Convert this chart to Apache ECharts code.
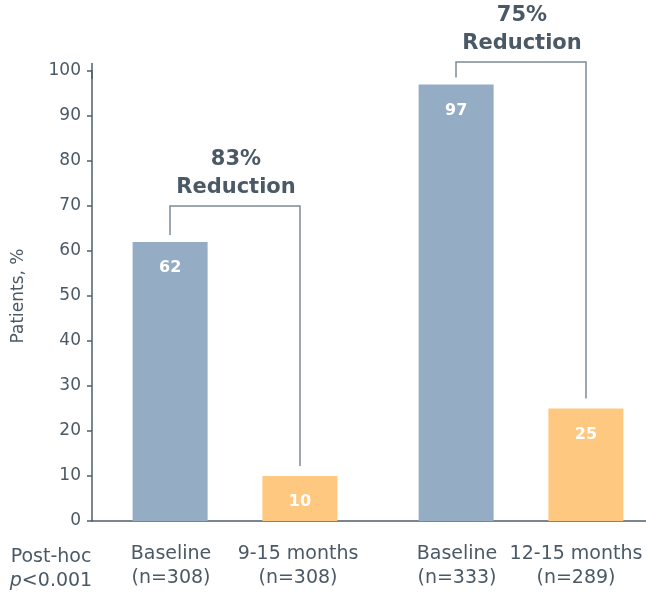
<!DOCTYPE html>
<html>
<head>
<meta charset="utf-8">
<script src="https://cdn.jsdelivr.net/npm/echarts@6/dist/echarts.min.js"></script>
<style>
  html, body { margin: 0; padding: 0; background: #fff; }
  #chart { width: 646px; height: 596px; }
</style>
</head>
<body>
<div id="chart"></div>
<script>
// chart data
const groups = ['Group 1', 'Group 2'];
const baselineLabels = ['Baseline\n(n=308)', 'Baseline\n(n=333)'];
const followupLabels = ['9-15 months\n(n=308)', '12-15 months\n(n=289)'];
const baselineValues = [62, 97];
const followupValues = [10, 25];
const reductionLabels = ['83%\nReduction', '75%\nReduction'];
const bracketLevels = [70, 102];
const yTicks = { min: 0, max: 100, interval: 10 };

const textColor = '#4a5965';
const font = 'DejaVu Sans';

const chart = echarts.init(document.getElementById('chart'));

// second group sits near the right edge, so its baseline box is narrower
function xLabel(value, idx) {
  const a = baselineLabels[idx].split('\n');
  const b = followupLabels[idx].split('\n');
  const k = idx === 0 ? 'a' : 'c';
  return '{' + k + '|' + a[0] + '}{b|' + b[0] + '}\n{' + k + '|' + a[1] + '}{b|' + b[1] + '}';
}

const labelStyle = { align: 'center', fontSize: 19, color: textColor, fontFamily: font, lineHeight: 24 };

const option = {
  animation: false,
  grid: { left: 92, width: 572, top: 71, height: 450, containLabel: false, outerBoundsMode: 'none' },
  xAxis: {
    type: 'category',
    data: groups,
    axisTick: { show: false },
    axisLine: { lineStyle: { color: '#4f5f6b', width: 1.5 } },
    axisLabel: {
      margin: 21,
      formatter: xLabel,
      rich: {
        a: Object.assign({ width: 126 }, labelStyle),
        b: Object.assign({ width: 128 }, labelStyle),
        c: Object.assign({ width: 110 }, labelStyle)
      }
    }
  },
  yAxis: {
    type: 'value',
    min: yTicks.min,
    max: yTicks.max,
    interval: yTicks.interval,
    name: 'Patients, %',
    nameLocation: 'middle',
    nameGap: 65,
    nameTextStyle: { fontSize: 17, color: textColor, fontFamily: font },
    splitLine: { show: false },
    axisLine: {
      show: true,
      symbol: ['none', 'rect'],
      symbolSize: [1.5, 16],
      lineStyle: { color: '#4f5f6b', width: 1.5 }
    },
    axisTick: { show: true, length: 5, lineStyle: { color: '#4f5f6b', width: 1.5 } },
    axisLabel: { fontSize: 17, color: textColor, fontFamily: font, margin: 11 }
  },
  series: [
    {
      name: 'Baseline',
      type: 'bar',
      data: baselineValues,
      barWidth: 75,
      barGap: '73%',
      itemStyle: { color: '#94adc4' },
      label: {
        show: true, position: 'insideTop', distance: 18,
        color: '#fff', fontSize: 16, fontWeight: 'bold', fontFamily: font
      }
    },
    {
      name: 'Follow-up',
      type: 'bar',
      data: followupValues,
      barWidth: 75,
      barGap: '73%',
      itemStyle: { color: '#ffc880' },
      label: {
        show: true, position: 'insideTop', distance: 18,
        color: '#fff', fontSize: 16, fontWeight: 'bold', fontFamily: font
      }
    },
    {
      // reduction brackets
      type: 'custom',
      silent: true,
      data: groups.map((g, i) => [i, baselineValues[i], followupValues[i], bracketLevels[i]]),
      renderItem: function (params, api) {
        const top = api.coord([api.value(0), api.value(3)]);
        const off = 65;
        const x1 = top[0] - off, x2 = top[0] + off;
        const y1 = api.coord([api.value(0), api.value(1)])[1] - 7;
        const y2 = api.coord([api.value(0), api.value(2)])[1] - 10;
        return {
          type: 'group',
          children: [
            {
              type: 'polyline',
              shape: { points: [[x1, y1], [x1, top[1]], [x2, top[1]], [x2, y2]] },
              style: { stroke: '#7d8b96', lineWidth: 1.5, fill: null }
            },
            {
              type: 'text',
              x: top[0] + 1,
              y: top[1] - 4,
              style: {
                text: reductionLabels[params.dataIndex],
                align: 'center',
                verticalAlign: 'bottom',
                fontSize: 21,
                fontWeight: 'bold',
                fontFamily: font,
                lineHeight: 28,
                fill: textColor
              }
            }
          ]
        };
      }
    }
  ],
  graphic: [
    {
      type: 'text',
      x: 51,
      y: 545,
      style: {
        text: '{a|Post-hoc}\n{i|p}{a|<0.001}',
        align: 'center',
        fill: textColor,
        rich: {
          a: { fontSize: 19, fill: textColor, fontFamily: font, lineHeight: 24 },
          i: { fontSize: 19, fill: textColor, fontFamily: font, lineHeight: 24, fontStyle: 'italic' }
        }
      }
    }
  ]
};

chart.setOption(option);
</script>
</body>
</html>
